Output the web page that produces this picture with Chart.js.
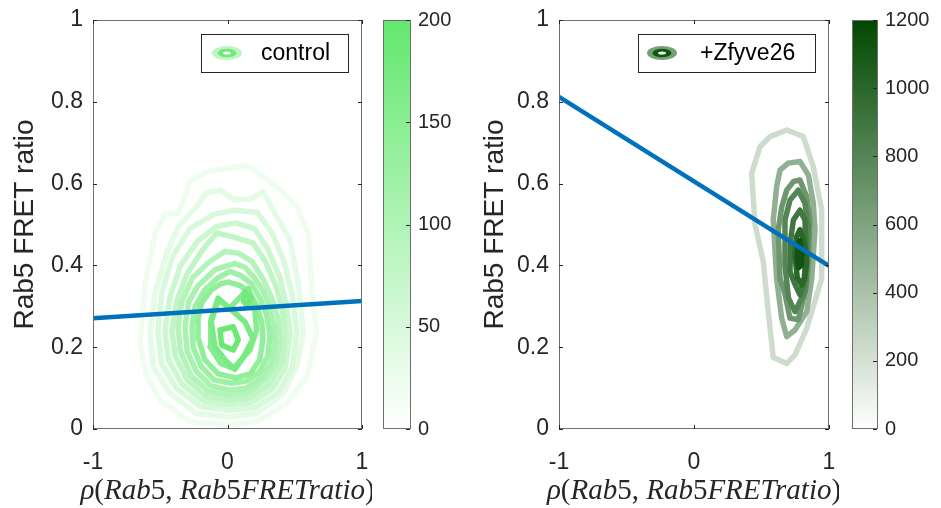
<!DOCTYPE html>
<html>
<head>
<meta charset="utf-8">
<script src="https://cdn.jsdelivr.net/npm/chart.js@4/dist/chart.umd.min.js"></script>
<style>
  html, body { margin: 0; padding: 0; background: #fff; }
  #wrap { position: relative; width: 941px; height: 508px; overflow: hidden; background: #fff; }
  #wrap canvas { position: absolute; top: 0; }
</style>
</head>
<body>
<div id="wrap">
  <canvas id="ctrlPlot" width="372" height="508" style="left:0px"></canvas>
  <canvas id="ctrlBar" width="87" height="508" style="left:383px"></canvas>
  <canvas id="zfyPlot" width="369" height="508" style="left:470px"></canvas>
  <canvas id="zfyBar" width="89" height="508" style="left:852px"></canvas>
</div>
<script>
// ---- axis ticks and labels ----
const xTicks = [-1, 0, 1];
const yTicks = [0, 0.2, 0.4, 0.6, 0.8, 1];
const yTitle = 'Rab5 FRET ratio';
const xTitleParts = [['ρ', 1], ['(', 0], ['Rab', 1], ['5', 0], [', ', 0], ['Rab', 1], ['5', 0], ['FRETratio', 1], [')', 0]];

// ---- control: density contours (rho, FRET ratio) ----
const ctrl01 = [[0.143,0.645],[0.217,0.629],[0.366,0.592],[0.514,0.544],[0.601,0.478],[0.626,0.340],[0.663,0.234],[0.589,0.128],[0.440,0.063],[0.217,0.018],[0.019,0.010],[-0.279,0.018],[-0.502,0.071],[-0.601,0.128],[-0.651,0.209],[-0.613,0.356],[-0.539,0.478],[-0.465,0.527],[-0.366,0.527],[-0.279,0.605],[-0.155,0.629]];
const ctrl02 = [[-0.056,0.584],[0.043,0.562],[0.167,0.562],[0.266,0.580],[0.353,0.527],[0.465,0.462],[0.526,0.356],[0.564,0.234],[0.514,0.152],[0.415,0.087],[0.217,0.038],[0.019,0.030],[-0.229,0.038],[-0.428,0.087],[-0.552,0.152],[-0.576,0.234],[-0.539,0.332],[-0.452,0.430],[-0.366,0.495],[-0.229,0.544],[-0.155,0.578]];
const ctrl03 = [[-0.10,0.525],[0.05,0.535],[0.22,0.530],[0.33,0.48],[0.42,0.41],[0.48,0.33],[0.517,0.24],[0.48,0.15],[0.38,0.09],[0.20,0.052],[0.02,0.046],[-0.20,0.055],[-0.38,0.10],[-0.49,0.16],[-0.517,0.24],[-0.49,0.33],[-0.41,0.42],[-0.28,0.49]];
const ctrl04 = [[-0.08,0.495],[0.06,0.504],[0.20,0.49],[0.30,0.44],[0.39,0.37],[0.44,0.30],[0.465,0.23],[0.43,0.15],[0.34,0.10],[0.18,0.065],[0.02,0.059],[-0.18,0.068],[-0.34,0.11],[-0.44,0.17],[-0.465,0.24],[-0.43,0.32],[-0.35,0.40],[-0.22,0.46]];
const ctrl05 = [[-0.08,0.479],[0.04,0.47],[0.19,0.455],[0.28,0.41],[0.36,0.35],[0.41,0.29],[0.428,0.23],[0.40,0.16],[0.31,0.11],[0.17,0.077],[0.02,0.071],[-0.16,0.08],[-0.30,0.12],[-0.39,0.18],[-0.413,0.24],[-0.38,0.31],[-0.30,0.38],[-0.18,0.44]];
const ctrl06 = [[-0.02,0.434],[0.08,0.43],[0.18,0.41],[0.26,0.37],[0.33,0.32],[0.375,0.27],[0.39,0.22],[0.36,0.16],[0.28,0.12],[0.16,0.09],[0.02,0.083],[-0.14,0.092],[-0.27,0.13],[-0.35,0.19],[-0.368,0.25],[-0.34,0.31],[-0.26,0.37],[-0.13,0.41]];
const ctrl07 = [[0.056,0.405],[0.13,0.395],[0.20,0.37],[0.26,0.34],[0.31,0.30],[0.345,0.25],[0.353,0.21],[0.32,0.16],[0.25,0.125],[0.14,0.10],[0.02,0.095],[-0.12,0.105],[-0.23,0.14],[-0.30,0.19],[-0.316,0.25],[-0.29,0.31],[-0.22,0.35],[-0.09,0.39]];
const ctrl08 = [[0.019,0.385],[0.10,0.375],[0.18,0.355],[0.24,0.32],[0.29,0.28],[0.316,0.23],[0.30,0.18],[0.24,0.14],[0.14,0.117],[0.03,0.112],[-0.10,0.12],[-0.20,0.155],[-0.255,0.20],[-0.264,0.25],[-0.24,0.30],[-0.17,0.34],[-0.07,0.37]];
const ctrl09 = [[0.01,0.359],[0.10,0.35],[0.17,0.33],[0.22,0.30],[0.255,0.26],[0.264,0.22],[0.24,0.17],[0.17,0.135],[0.06,0.125],[-0.07,0.135],[-0.17,0.17],[-0.215,0.22],[-0.219,0.27],[-0.19,0.31],[-0.12,0.34],[-0.05,0.355]];
const ctrl10 = [[-0.068,0.315],[0.019,0.296],[0.155,0.344],[0.20,0.30],[0.217,0.242],[0.167,0.193],[0.043,0.148],[-0.05,0.16],[-0.130,0.201],[-0.125,0.259]];
const ctrl11 = [[-0.07,0.32],[0.13,0.262],[0.19,0.22],[0.12,0.177],[0.056,0.146],[-0.01,0.166],[-0.093,0.201],[-0.123,0.266]];
const ctrl12 = [[0.13,0.335],[0.17,0.322],[0.15,0.30],[0.12,0.312]];
const ctrl13 = [[-0.056,0.242],[0.043,0.250],[0.080,0.218],[0.043,0.193],[-0.043,0.205]];
const ctrlRings = [ctrl01, ctrl02, ctrl03, ctrl04, ctrl05, ctrl06, ctrl07, ctrl08, ctrl09, ctrl10, ctrl11, ctrl12, ctrl13];
const ctrlLevels = [20, 35, 50, 65, 80, 95, 110, 125, 140, 155, 170, 180, 190];
const ctrlRange = [0, 200];
const ctrlStep = 50;
const ctrlFitX = [-1, 1];
const ctrlFitY = [0.271, 0.313];

// ---- +Zfyve26: density contours ----
const zfy01 = [[0.687,0.731],[0.810,0.715],[0.884,0.641],[0.946,0.535],[0.946,0.368],[0.835,0.246],[0.748,0.181],[0.687,0.160],[0.587,0.175],[0.550,0.287],[0.513,0.409],[0.452,0.500],[0.427,0.625],[0.489,0.690],[0.563,0.715]];
const zfy02 = [[0.698,0.650],[0.785,0.654],[0.847,0.621],[0.884,0.552],[0.896,0.487],[0.872,0.368],[0.835,0.287],[0.748,0.242],[0.687,0.226],[0.650,0.270],[0.612,0.368],[0.587,0.511],[0.612,0.592],[0.637,0.633]];
const zfy03 = [[0.736,0.605],[0.785,0.609],[0.835,0.568],[0.859,0.511],[0.847,0.409],[0.835,0.352],[0.772,0.267],[0.711,0.271],[0.674,0.330],[0.637,0.368],[0.624,0.487],[0.650,0.543],[0.687,0.584]];
const zfy04 = [[0.772,0.584],[0.822,0.552],[0.847,0.495],[0.835,0.400],[0.822,0.336],[0.748,0.287],[0.700,0.320],[0.674,0.400],[0.674,0.511],[0.711,0.560]];
const zfy05 = [[0.785,0.535],[0.822,0.511],[0.830,0.430],[0.815,0.360],[0.785,0.328],[0.740,0.360],[0.711,0.385],[0.715,0.460],[0.736,0.511]];
const zfy06 = [[0.785,0.487],[0.815,0.460],[0.835,0.409],[0.820,0.370],[0.798,0.352],[0.765,0.370],[0.748,0.425],[0.760,0.470]];
const zfy07 = [[0.785,0.460],[0.800,0.430],[0.795,0.400],[0.775,0.395],[0.765,0.420],[0.772,0.450]];
const zfyRings = [zfy01, zfy02, zfy03, zfy04, zfy05, zfy06, zfy07];
const zfyLevels = [230, 520, 680, 800, 900, 1000, 1120];
const zfyRange = [0, 1200];
const zfyStep = 200;
const zfyFitX = [-1, 1];
const zfyFitY = [0.812, 0.399];

// ---- styling ----
const SANS = '"Liberation Sans", Arial, Helvetica, sans-serif';
const SERIF = '"Liberation Serif", "Times New Roman", serif';
const INK = '#262626';
const FRAME = '#6f6f6f';
const ctrlTop = [98, 232, 110];
const zfyTop = [0, 72, 0];
const fitBlue = '#0072BD';
const plainNumber = v => String(Math.round(v * 1000) / 1000);

function cmap(t, top) {
  t = Math.max(0, Math.min(1, t));
  const c = top.map(v => Math.round(255 + (v - 255) * t));
  return `rgb(${c[0]},${c[1]},${c[2]})`;
}

// keep the plotting box exactly where the layout puts it (no label overhang padding)
function noOverhang(s) {
  s.paddingLeft = 0; s.paddingRight = 0; s.paddingTop = 0; s.paddingBottom = 0;
}

// axes box with inward ticks on all four sides
function framePlugin() {
  return {
    id: 'frameBox',
    afterDatasetsDraw(chart) {
      const { ctx, chartArea: a, scales } = chart;
      ctx.save();
      ctx.strokeStyle = FRAME;
      ctx.lineWidth = 1;
      ctx.strokeRect(a.left + 0.5, a.top + 0.5, a.right - a.left - 1, a.bottom - a.top - 1);
      ctx.strokeStyle = INK;
      ctx.beginPath();
      const len = 4;
      scales.x.ticks.forEach(t => {
        const px = Math.round(scales.x.getPixelForValue(t.value)) + 0.5;
        ctx.moveTo(px, a.bottom); ctx.lineTo(px, a.bottom - len);
        ctx.moveTo(px, a.top); ctx.lineTo(px, a.top + len);
      });
      scales.y.ticks.forEach(t => {
        const py = Math.round(scales.y.getPixelForValue(t.value)) + 0.5;
        ctx.moveTo(a.left, py); ctx.lineTo(a.left + len, py);
        ctx.moveTo(a.right, py); ctx.lineTo(a.right - len, py);
      });
      ctx.stroke();
      ctx.restore();
    }
  };
}

// boxed key with a concentric-ring glyph
function keyPlugin(label, box, outer, inner) {
  return {
    id: 'keyBox',
    afterDraw(chart) {
      const ctx = chart.ctx;
      ctx.save();
      ctx.fillStyle = '#fff';
      ctx.fillRect(box.x, box.y, box.w, box.h);
      ctx.strokeStyle = INK;
      ctx.lineWidth = 1;
      ctx.strokeRect(box.x + 0.5, box.y + 0.5, box.w, box.h);
      const cx = box.x + box.icon, cy = box.y + box.h / 2;
      const ell = (rx, ry, col) => {
        ctx.beginPath(); ctx.ellipse(cx, cy, rx, ry, 0, 0, Math.PI * 2);
        ctx.fillStyle = col; ctx.fill();
      };
      ell(15, 7, outer);
      ell(9.5, 4.3, inner);
      ell(4, 1.6, '#fff');
      ctx.fillStyle = '#000';
      ctx.font = `23px ${SANS}`;
      ctx.textBaseline = 'middle';
      ctx.textAlign = 'left';
      ctx.fillText(label, box.x + box.text, cy + 1);
      ctx.restore();
    }
  };
}

// x-axis label set in math style: italic symbols, upright digits and punctuation
function mathTitlePlugin(parts, baseline, size) {
  return {
    id: 'mathTitle',
    afterDraw(chart) {
      const { ctx, chartArea: a } = chart;
      ctx.save();
      const font = it => `${it ? 'italic ' : ''}${size}px ${SERIF}`;
      let total = 0;
      const widths = parts.map(([t, it]) => { ctx.font = font(it); const w = ctx.measureText(t).width; total += w; return w; });
      let x = (a.left + a.right) / 2 - total / 2;
      ctx.fillStyle = INK;
      ctx.textBaseline = 'alphabetic';
      ctx.textAlign = 'left';
      parts.forEach(([t, it], i) => { ctx.font = font(it); ctx.fillText(t, x, baseline); x += widths[i]; });
      ctx.restore();
    }
  };
}

function panel(id, rings, levels, vmax, top, fitX, fitY, yAxisW, key) {
  const sets = rings.map((pts, i) => ({
    data: pts.concat([pts[0]]).map(p => ({ x: p[0], y: p[1] })),
    showLine: true,
    borderColor: cmap(levels[i] / vmax, top),
    borderWidth: 5.5,
    borderJoinStyle: 'round',
    borderCapStyle: 'round',
    pointRadius: 0,
    fill: false,
    tension: 0,
    clip: 0,
    order: 100 - i
  }));
  sets.push({
    data: fitX.map((x, i) => ({ x, y: fitY[i] })),
    showLine: true,
    borderColor: fitBlue,
    borderWidth: 4.5,
    pointRadius: 0,
    fill: false,
    clip: 0,
    order: 0
  });
  return new Chart(document.getElementById(id), {
    type: 'scatter',
    data: { datasets: sets },
    options: {
      responsive: false,
      animation: false,
      devicePixelRatio: 1,
      events: [],
      layout: { padding: { top: 20, right: 10, left: 0, bottom: 0 } },
      plugins: { legend: { display: false }, tooltip: { enabled: false } },
      scales: {
        x: {
          type: 'linear', min: -1, max: 1,
          afterBuildTicks: s => { s.ticks = xTicks.map(v => ({ value: v })); },
          ticks: { font: { family: SANS, size: 23 }, color: INK, padding: 20, maxRotation: 0, callback: plainNumber },
          grid: { display: false, drawTicks: false },
          border: { display: false },
          afterFit: s => { s.height = 79; noOverhang(s); }
        },
        y: {
          type: 'linear', min: 0, max: 1,
          afterBuildTicks: s => { s.ticks = yTicks.map(v => ({ value: v })); },
          ticks: { font: { family: SANS, size: 23 }, color: INK, padding: 10, callback: plainNumber },
          grid: { display: false, drawTicks: false },
          border: { display: false },
          title: { display: true, text: yTitle, color: INK, font: { family: SANS, size: 28 }, padding: { top: 8, bottom: 0 } },
          afterFit: s => { s.width = yAxisW; noOverhang(s); }
        }
      }
    },
    plugins: [framePlugin(), keyPlugin(key.label, key.box, key.outer, key.inner), mathTitlePlugin(xTitleParts, 499, 29)]
  });
}

function colorbar(id, range, step, top, axisW) {
  const cbFrame = {
    id: 'cbFrame',
    afterDatasetsDraw(chart) {
      const { ctx, chartArea: a, scales } = chart;
      ctx.save();
      ctx.strokeStyle = FRAME;
      ctx.lineWidth = 1;
      ctx.strokeRect(a.left + 0.5, a.top + 0.5, a.right - a.left - 1, a.bottom - a.top - 1);
      ctx.strokeStyle = INK;
      ctx.beginPath();
      scales.y.ticks.forEach(t => {
        const py = Math.round(scales.y.getPixelForValue(t.value)) + 0.5;
        ctx.moveTo(a.right - 1, py); ctx.lineTo(a.right - 5, py);
      });
      ctx.stroke();
      ctx.restore();
    }
  };
  return new Chart(document.getElementById(id), {
    type: 'bar',
    data: {
      labels: [''],
      datasets: [{
        data: [[range[0], range[1]]],
        backgroundColor: c => {
          const a = c.chart.chartArea;
          if (!a) return cmap(0.5, top);
          const g = c.chart.ctx.createLinearGradient(0, a.bottom, 0, a.top);
          g.addColorStop(0, cmap(0, top));
          g.addColorStop(1, cmap(1, top));
          return g;
        },
        borderWidth: 0,
        barPercentage: 1,
        categoryPercentage: 1
      }]
    },
    options: {
      responsive: false,
      animation: false,
      devicePixelRatio: 1,
      events: [],
      layout: { padding: { top: 20, bottom: 79, left: 0, right: 0 } },
      plugins: { legend: { display: false }, tooltip: { enabled: false } },
      scales: {
        x: { display: false },
        y: {
          position: 'right', min: range[0], max: range[1],
          ticks: { stepSize: step, padding: 7, color: INK, font: { family: SANS, size: 20 }, callback: plainNumber },
          grid: { display: false, drawTicks: false },
          border: { display: false },
          afterFit: s => { s.width = axisW; noOverhang(s); }
        }
      }
    },
    plugins: [cbFrame]
  });
}

panel('ctrlPlot', ctrlRings, ctrlLevels, ctrlRange[1], ctrlTop, ctrlFitX, ctrlFitY, 93,
  { label: 'control', box: { x: 201, y: 34, w: 147, h: 38, icon: 26, text: 60 },
    outer: 'rgb(190,246,195)', inner: 'rgb(112,233,122)' });
colorbar('ctrlBar', ctrlRange, ctrlStep, ctrlTop, 59);

panel('zfyPlot', zfyRings, zfyLevels, zfyRange[1], zfyTop, zfyFitX, zfyFitY, 89,
  { label: '+Zfyve26', box: { x: 168, y: 34, w: 177, h: 38, icon: 24, text: 62 },
    outer: 'rgb(120,160,120)', inner: 'rgb(10,88,10)' });
colorbar('zfyBar', zfyRange, zfyStep, zfyTop, 63);
</script>
</body>
</html>
